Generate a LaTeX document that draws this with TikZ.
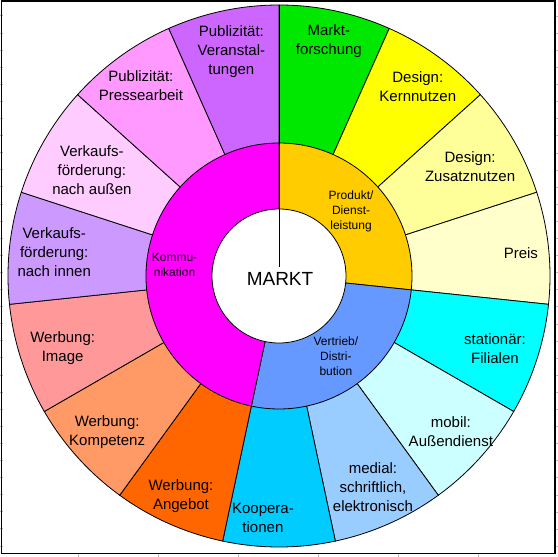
\documentclass[tikz,border=0pt]{standalone}
\usepackage{fontspec}
\setmainfont{Liberation Sans}
\usepackage{xcolor}

% segment colours (outer ring, clockwise from the top)
\definecolor{cMarkt}{HTML}{00E800}
\definecolor{cKern}{HTML}{FFFF00}
\definecolor{cZusatz}{HTML}{FFFF99}
\definecolor{cPreis}{HTML}{FFFFCC}
\definecolor{cFilial}{HTML}{00FFFF}
\definecolor{cMobil}{HTML}{CCFFFF}
\definecolor{cMedial}{HTML}{99CCFF}
\definecolor{cKoop}{HTML}{00CCFF}
\definecolor{cAngebot}{HTML}{FF6600}
\definecolor{cKompetenz}{HTML}{FF9966}
\definecolor{cImage}{HTML}{FF9999}
\definecolor{cInnen}{HTML}{CC99FF}
\definecolor{cAussen}{HTML}{FFCCFF}
\definecolor{cPresse}{HTML}{FF99FF}
\definecolor{cVeranst}{HTML}{CC66FF}
% inner ring
\definecolor{cProdukt}{HTML}{FFCC00}
\definecolor{cVertrieb}{HTML}{6699FF}
\definecolor{cKomm}{HTML}{FF00FF}

\begin{document}
\begin{tikzpicture}[x=1pt, y=1pt,
      seg/.style={draw=black, line width=0.8pt},
      lab/.style={align=center, inner sep=0pt, font=\fontsize{15}{19}\selectfont},
      sublab/.style={align=center, inner sep=0pt, font=\fontsize{12}{15}\selectfont},
      tickmark/.style={gray!55, line width=0.6pt},
    ]

    \useasboundingbox (0,0) rectangle (558,-557);

    % ---- Axis ticks and frame ----
    \foreach \i in {0,...,31}{
        \draw[tickmark] (0, {-15.7-\i*17.1}) -- (3, {-15.7-\i*17.1});
        \draw[tickmark] (555.5, {-16-\i*17.1}) -- (558, {-16-\i*17.1});
      }
    \foreach \i in {0,...,5}
    \draw[tickmark] ({78+\i*80}, -554) -- ({78+\i*80}, -557);
    \draw[line width=1.6pt] (1.5,-1) rectangle (555,-553.5);

    \begin{scope}[shift={(279,-276)}]
      % ---- Outer ring: 15 segments of 24 degrees ----
      \foreach \k/\col in {
          0/cMarkt, 1/cKern, 2/cZusatz, 3/cPreis, 4/cFilial,
          5/cMobil, 6/cMedial, 7/cKoop, 8/cAngebot, 9/cKompetenz,
          10/cImage, 11/cInnen, 12/cAussen, 13/cPresse, 14/cVeranst}{
          \filldraw[seg, fill=\col] (0,0) -- ({90-24*\k}:271)
          arc[start angle={90-24*\k}, end angle={66-24*\k}, radius=271] -- cycle;
        }

      % ---- Inner ring ----
      \filldraw[seg, fill=cProdukt] (0,0) -- (90:133)
      arc[start angle=90, end angle=-6, radius=133] -- cycle;
      \filldraw[seg, fill=cVertrieb] (0,0) -- (-6:133)
      arc[start angle=-6, end angle=-102, radius=133] -- cycle;
      \filldraw[seg, fill=cKomm] (0,0) -- (-102:133)
      arc[start angle=-102, end angle=-270, radius=133] -- cycle;

      % ---- Centre ----
      \filldraw[seg, fill=white] (0,0) circle[radius=67];
      \draw[seg] (90:271) -- (0,9);

      % ---- Outer labels ----
      \node[lab] (markt)     at (78:240)      {Markt-\\forschung};
      \node[lab] (kern)      at (53.8:235)    {Design:\\Kernnutzen};
      \node[lab] (zusatz)    at (29.7:220)    {Design:\\Zusatznutzen};
      \node[lab] (preis)     at (5.4:243)     {Preis};
      \node[lab] (filial)    at (-18.7:228)   {stationär:\\Filialen};
      \node[lab] (mobil)     at (-42.2:232)   {mobil:\\Außendienst};
      \node[lab] (medial)    at (-66:231)     {medial:\\schriftlich,\\elektronisch};
      \node[lab] (koop)      at (-93.8:242.5) {Koopera-\\tionen};
      \node[lab] (angebot)   at (-114:241)    {Werbung:\\Angebot};
      \node[lab] (kompetenz) at (-137.8:232)  {Werbung:\\Kompetenz};
      \node[lab] (image)     at (-161.6:228)  {Werbung:\\Image};
      \node[lab] (innen)     at (174:226)     {Verkaufs-\\förderung:\\nach innen};
      \node[lab] (aussen)    at (150.5:215)   {Verkaufs-\\förderung:\\nach außen};
      \node[lab] (presse)    at (126:235)     {Publizität:\\Pressearbeit};
      \node[lab] (veranst)   at (102:229)     {Publizität:\\Veranstal-\\tungen};

      % ---- Inner labels ----
      \node[sublab] (produkt)  at (42:97)    {Produkt/\\Dienst-\\leistung};
      \node[sublab] (vertrieb) at (-54.5:98) {Vertrieb/\\Distri-\\bution};
      \node[sublab] (komm)     at (174:105)  {Kommu-\\nikation};
      \node[font=\fontsize{19}{22}\selectfont] (mkt) at (1,-3) {MARKT};
    \end{scope}

  \end{tikzpicture}
\end{document}
